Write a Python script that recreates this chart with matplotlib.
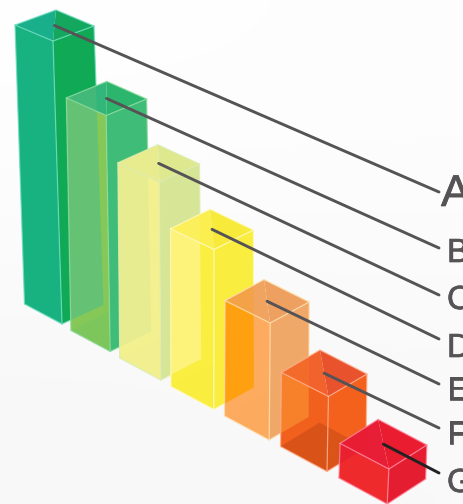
import matplotlib
matplotlib.use("Agg")
import matplotlib.pyplot as plt
import matplotlib.patheffects as pe
import numpy as np
from matplotlib.patches import Polygon

# Data
labels = ["A", "B", "C", "D", "E", "F", "G"]
heights = [283, 236, 198, 160, 117, 75, 35]
label_y = [190, 250, 297, 345, 388, 432, 480]
line_end_y = [192, 248, 295, 339, 384, 428, 473]
label_size = [32, 24, 24, 24, 24, 24, 24]

left_cols = ["#17b27f", "#85c858", "#f3f090", "#faee40", "#fdab5e", "#f2601e", "#ef2a2c"]
over_cols = ["#17b27f", "#65c274", "#e8ec90", "#fdf27a", "#ffa010", "#f7802a", "#e8202f"]
right_cols = ["#10a955", "#3fbc78", "#d6e596", "#f9ee3f", "#f0a868", "#f4611c", "#e51d30"]
top_l_cols = ["#18af8a", "#33b67c", "#e9ec8e", "#fbef50", "#f0a460", "#f2622c", "#e81d36"]
top_r_cols = ["#14a85e", "#2cb56c", "#dde88f", "#f8ea3a", "#eda060", "#e8522d", "#ea1c30"]
edge_cols = ["#70dcc0", "#90dca0", "#dcecb0", "#fffac0", "#ffe0b0", "#ffb090", "#ff88a0"]
line_cols = ["#555355", "#555355", "#555355", "#555355", "#555355", "#555355", "#222222"]
floor_alpha = [0.0, 0.2, 0.08, 0.05, 0.08, 0.55, 0.0]

fig = plt.figure(figsize=(4.64, 5.04), dpi=100)
ax = fig.add_axes([0, 0, 1, 1])
ax.set_xlim(0, 464)
ax.set_ylim(504, 0)
ax.axis("off")

bg = [[0.995, 0.992], [0.968, 0.972]]
ax.imshow(bg, cmap="gray", vmin=0, vmax=1, extent=(0, 464, 504, 0),
          aspect="auto", interpolation="bicubic", zorder=0)

prev_shape = None
for i, h in enumerate(heights):
    # the bars step down the floor and spread out a little towards the viewer
    fx = 62 + 47 * i + 1.2 * i ** 2
    fy = 324 + 27 * i + 0.5 * i ** 2
    lean = -2 + 11 * 0.55 ** i
    wl = 38 + 1.8 * i
    wr = 41 - 0.5 * i
    tdl = 16 + 1.6 * i
    tdr = 15 + 1.5 * i
    bdl = 20 + i
    bdr = 19 + i

    # bottom corners
    bf = np.array([fx, fy])
    bl = bf + [-wl + 0.5, -bdl]
    br = bf + [wr + 0.5, -bdr]
    bb = bl + br - bf
    # top corners
    tf = np.array([fx - lean, fy - h])
    tl = tf + [-wl, -tdl]
    tr = tf + [wr, -tdr]
    tb = tl + tr - tf

    z = 2 + i
    left_pts = [tl, tf, bf, bl]
    ax.add_patch(Polygon([tf, bf, br, tr], fc=right_cols[i], ec="none", zorder=z))
    ax.add_patch(Polygon(left_pts, fc=left_cols[i], ec="none", zorder=z))
    ax.add_patch(Polygon([tl, tb, tf], fc=top_l_cols[i], ec="none", zorder=z))
    ax.add_patch(Polygon([tb, tr, tf], fc=top_r_cols[i], ec="none", zorder=z))

    # where a bar stands in front of the previous one its colour changes
    if prev_shape is not None:
        over = Polygon(left_pts, fc=over_cols[i], ec="none", zorder=z + 0.02)
        ax.add_patch(over)
        over.set_clip_path(Polygon(prev_shape, transform=ax.transData))
        over_top = Polygon([tl, tb, tr, tf], fc=over_cols[i], alpha=0.3, ec="none", zorder=z + 0.02)
        ax.add_patch(over_top)
        over_top.set_clip_path(Polygon(prev_shape, transform=ax.transData))

    # see-through floor of the box
    ax.add_patch(Polygon([bl, bf, br, bb], fc="#a83a10" if i == 5 else right_cols[i],
                         alpha=floor_alpha[i] * 0.6, ec="none", zorder=z + 0.05))

    # light outlines along the box edges
    for p, q in [(tl, tf), (tf, tr), (tr, tb), (tb, tl), (tf, bf), (tl, bl),
                 (bl, bf), (bf, br), (tr, br)]:
        ax.plot([p[0], q[0]], [p[1], q[1]], color=edge_cols[i], lw=0.9,
                alpha=0.8, solid_capstyle="round", zorder=z + 0.1)

    # leader from the middle of the top face out to the letter
    mid = (tl + tr) / 2
    ax.plot([mid[0], 439], [mid[1], line_end_y[i]], color=line_cols[i], lw=2.1,
            solid_capstyle="round", zorder=20)
    t = ax.text(441 if i == 0 else 447, label_y[i], labels[i], fontsize=label_size[i],
                family="Liberation Sans", color="#555355", ha="left", va="center_baseline",
                zorder=20)
    t.set_path_effects([pe.withStroke(linewidth=0.5, foreground="#555355")])

    prev_shape = [tl, tb, tr, br, bf, bl]

fig.savefig("out.png", dpi=100)
